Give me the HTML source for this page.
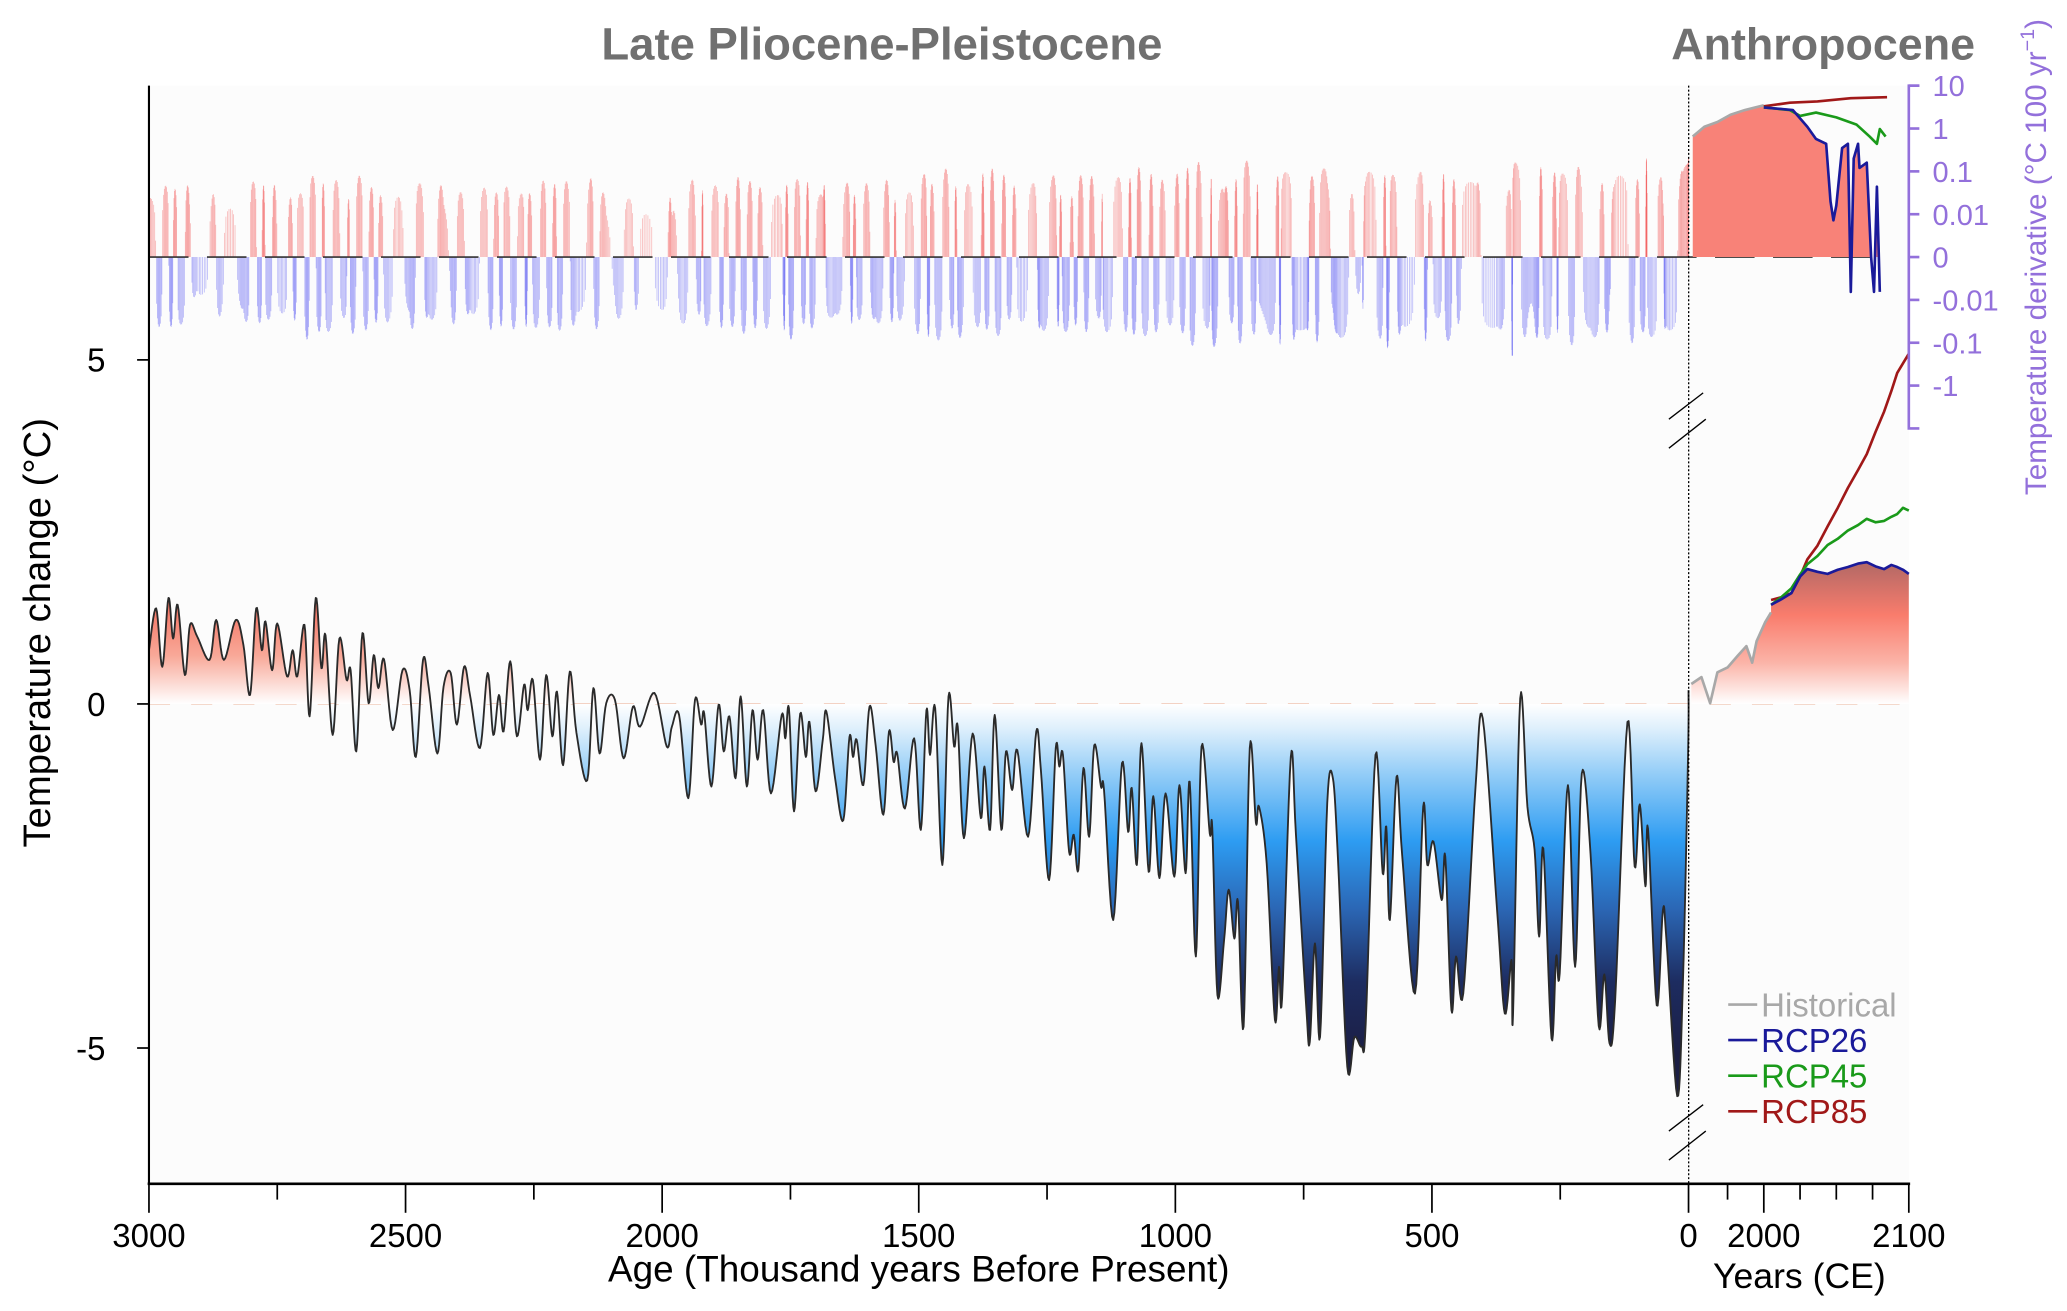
<!DOCTYPE html>
<html><head><meta charset="utf-8"><style>
html,body{margin:0;padding:0;background:#fff;}
svg{display:block;font-family:"Liberation Sans","DejaVu Sans",sans-serif;}
</style></head><body>
<svg id="chart" width="2067" height="1311" viewBox="0 0 1568 994.5" preserveAspectRatio="none" xmlns="http://www.w3.org/2000/svg">
<defs>
<linearGradient id="paleoGrad" gradientUnits="userSpaceOnUse" x1="0" y1="456" x2="0" y2="800">
<stop offset="0" stop-color="#f4705f"/>
<stop offset="0.12" stop-color="#f8a898"/>
<stop offset="0.227" stop-color="#ffffff"/>
<stop offset="0.28" stop-color="#dff0fc"/>
<stop offset="0.38" stop-color="#94cdf7"/>
<stop offset="0.53" stop-color="#2d9cf2"/>
<stop offset="0.68" stop-color="#2b66b4"/>
<stop offset="0.84" stop-color="#1d2c60"/>
<stop offset="1" stop-color="#1b1e44"/>
</linearGradient>
<linearGradient id="anthGrad" gradientUnits="userSpaceOnUse" x1="0" y1="430" x2="0" y2="534">
<stop offset="0" stop-color="#b86a66"/>
<stop offset="0.35" stop-color="#f97c6c"/>
<stop offset="0.7" stop-color="#fbb4a8"/>
<stop offset="1" stop-color="#ffffff"/>
</linearGradient>
</defs>
<rect x="113" y="65" width="1335" height="833" fill="#fcfcfc"/>
<g id="layer"></g>
</svg>
<script>
// ---------- data ----------
const paleoAge = [3000,2986,2974,2962,2953,2944,2930,2920,2906,2882,2869,2854,2831,2816,2803,2791,2780,2773,2760,2750,2731,2720,2711,2697,2687,2675,2664,2656,2642,2629,2615,2607,2596,2584,2572,2562,2553,2542,2525,2506,2492,2480,2466,2455,2438,2426,2412,2400,2386,2374,2355,2340,2329,2318,2309,2296,2283,2269,2262,2252,2238,2226,2214,2205,2193,2180,2167,2146,2134,2122,2109,2092,2075,2057,2043,2015,1991,1981,1967,1949,1936,1924,1918,1904,1890,1880,1869,1857,1847,1835,1824,1814,1803,1788,1767,1760,1753,1743,1731,1720,1713,1701,1687,1680,1663,1647,1635,1628,1621,1608,1596,1584,1569,1558,1549,1542,1527,1509,1496,1485,1478,1468,1454,1442,1431,1424,1412,1395,1379,1372,1361,1352,1339,1330,1318,1308,1287,1271,1262,1246,1233,1226,1219,1207,1198,1189,1179,1168,1158,1145,1139,1121,1104,1092,1085,1075,1066,1052,1043,1031,1019,1002,992,980,972,960,949,933,928,918,905,896,885,878,867,855,843,837,822,806,798,792,775,765,745,738,728,718,704,693,683,665,651,637,629,610,596,589,582,569,558,533,517,509,497,481,474,462,453,439,415,401,373,358,345,342,328,314,300,291,283,267,258,251,235,221,208,191,175,164,154,143,119,105,95,84,79,62,50,43,22,11,1,0];
const paleoTemp = [0.78,1.39,0.54,1.54,0.95,1.44,0.42,1.15,0.98,0.64,1.22,0.64,1.22,0.86,0.13,1.39,0.78,1.20,0.49,1.17,0.40,0.78,0.40,1.15,-0.18,1.54,0.52,1.00,-0.45,0.95,0.35,0.49,-0.69,1.03,0.01,0.71,0.23,0.65,-0.38,0.49,0.20,-0.77,0.64,0.25,-0.72,0.25,0.45,-0.30,0.54,0.11,-0.64,0.45,-0.45,0.13,-0.40,0.62,-0.47,0.28,-0.09,0.35,-0.81,0.42,-0.47,0.18,-0.89,0.47,-0.42,-1.11,0.23,-0.72,0.01,0.06,-0.79,-0.04,-0.33,0.16,-0.62,-0.33,-0.16,-1.37,0.06,-0.30,-0.14,-1.20,-0.01,-0.69,-0.18,-1.08,0.11,-1.20,-0.09,-0.81,-0.09,-1.30,-0.16,-0.50,-0.06,-1.56,-0.14,-0.77,-0.26,-1.27,-0.52,-0.11,-1.08,-1.69,-0.48,-0.77,-0.52,-1.18,-0.04,-0.60,-1.61,-0.40,-0.84,-0.72,-1.52,-0.50,-1.83,-0.09,-0.74,-0.06,-2.34,0.11,-0.62,-0.33,-1.95,-0.43,-1.66,-0.91,-1.83,-0.16,-1.83,-0.69,-1.25,-0.67,-1.93,-0.40,-0.96,-2.56,-0.64,-0.91,-0.74,-2.15,-1.90,-2.41,-0.93,-1.93,-0.60,-1.20,-1.25,-3.14,-0.86,-1.86,-1.22,-2.34,-0.57,-2.44,-1.34,-2.53,-1.30,-2.51,-1.18,-2.46,-1.13,-3.67,-0.62,-1.88,-1.81,-4.23,-3.43,-2.70,-3.41,-2.87,-4.69,-0.64,-1.73,-1.49,-2.32,-4.59,-3.82,-4.28,-0.77,-1.90,-4.40,-4.91,-3.48,-4.84,-1.44,-1.08,-2.27,-5.27,-4.84,-4.98,-4.64,-0.74,-2.46,-1.78,-3.14,-1.06,-2.20,-4.21,-1.49,-2.34,-2.00,-2.85,-2.22,-4.45,-3.67,-4.21,-1.20,-0.21,-3.00,-4.50,-3.72,-4.52,0.08,-1.49,-2.12,-3.38,-2.10,-4.86,-3.67,-3.91,-1.18,-3.82,-1.01,-2.17,-4.68,-3.93,-4.93,-4.31,-0.26,-2.36,-1.46,-2.65,-1.81,-4.38,-3.00,-3.43,-5.70,-4.06,-0.77,0.20];

const histYear = [1950,1957,1963,1968,1975,1982,1988,1992,1995,2001,2005];
const histTemp = [0.29,0.39,0.01,0.46,0.53,0.70,0.84,0.60,0.91,1.19,1.33];
const rcpYear = [2005,2012,2019,2025,2030,2037,2044,2051,2058,2065,2071,2077,2083,2088,2092,2096,2100];
const rcp85 = [1.51,1.55,1.61,1.85,2.10,2.30,2.58,2.85,3.14,3.40,3.63,3.95,4.25,4.55,4.81,4.95,5.09];
const rcp45 = [1.44,1.55,1.68,1.88,2.03,2.15,2.31,2.40,2.52,2.60,2.69,2.64,2.66,2.72,2.76,2.85,2.81];
const rcp26 = [1.44,1.52,1.61,1.85,1.96,1.92,1.89,1.95,1.99,2.04,2.06,2.00,1.96,2.02,1.99,1.95,1.89];

const dHistYear = [1951,1959,1968,1977,1987,2000];
const dHist = [0.65,1.1,1.42,2.1,2.7,3.5];
const d85Year = [2000,2018,2037,2060,2085];
const d85 = [3.3,4.0,4.3,5.1,5.4];
const d45Year = [2000,2018,2025,2036,2050,2064,2073,2078,2080,2084];
const d45 = [3.1,2.7,1.97,2.36,1.82,1.23,0.65,0.44,0.97,0.65];
const d26Year = [2000,2020,2030,2036,2043,2046,2048,2050,2054,2058,2060,2062,2065,2066,2071,2074,2076,2078,2080];
const d26 = [3.1,2.7,1.1,0.57,0.44,0.02,0.0072,0.016,0.35,0.44,-0.0065,0.2,0.44,0.12,0.16,0,-0.0065,0.044,-0.0065];

const ageTicks = [3000,2500,2000,1500,1000,500,0];
const tempTicks = [5,0,-5];
const derivTicks = [10,1,0.1,0.01,0,-0.01,-0.1,-1];
const derivTickLabels = ["10","1","0.1","0.01","0","-0.01","-0.1","-1"];

// ---------- scales ----------
const xAge = a => 113 + (3000 - a) * 0.3893;
const yT = t => 534 - t * 52.2;
const xYr = y => 1338 + (y - 2000) * 1.1;
const yD = v => {
  if (v > 0) return 195 - 32.5 * Math.max(0, Math.log10(v) + 3);
  if (v < 0) return 195 + 32.5 * Math.max(0, Math.log10(-v) + 3);
  return 195;
};

const NS = "http://www.w3.org/2000/svg";
const layer = document.getElementById("layer");
function mk(tag, attrs, parent) {
  const e = document.createElementNS(NS, tag);
  for (const k in attrs) e.setAttribute(k, attrs[k]);
  (parent || layer).appendChild(e);
  return e;
}
function txt(s, attrs, parent) { const e = mk("text", attrs, parent); e.textContent = s; return e; }

// Catmull-Rom sampling of paleo series (age, temp)
const SUB = 8;
const smooth = [];
for (let i = 0; i < paleoAge.length - 1; i++) {
  const i0 = Math.max(0, i - 1), i3 = Math.min(paleoAge.length - 1, i + 2);
  for (let s = 0; s < SUB; s++) {
    const t = s / SUB, t2 = t * t, t3 = t2 * t;
    const cr = (p0, p1, p2, p3) => 0.5 * ((2 * p1) + (-p0 + p2) * t + (2 * p0 - 5 * p1 + 4 * p2 - p3) * t2 + (-p0 + 3 * p1 - 3 * p2 + p3) * t3);
    smooth.push([cr(paleoAge[i0], paleoAge[i], paleoAge[i + 1], paleoAge[i3]),
                 cr(paleoTemp[i0], paleoTemp[i], paleoTemp[i + 1], paleoTemp[i3])]);
  }
}
smooth.push([paleoAge[paleoAge.length - 1], paleoTemp[paleoTemp.length - 1]]);

// ---------- paleo derivative bars ----------
// the original record has much finer sampling than the digitised extrema, so
// instantaneous rates are larger; RES scales the smoothed-curve slope accordingly
const RES = 4;
const barsG = mk("g", {});


for (let k = 0; k < smooth.length - 1; k++) {
  const [a0, t0] = smooth[k], [a1, t1] = smooth[k + 1];
  if (a0 - a1 <= 0.05) continue;
  let v = RES * (t1 - t0) / (a0 - a1) / 10;
  v = Math.max(-0.2, Math.min(0.2, v));
  const x = xAge((a0 + a1) / 2);
  const b = mk("line", {x1: x, x2: x, y1: 195, y2: yD(v),
    stroke: v > 0 ? "rgb(240,50,50)" : "rgb(50,50,240)", "stroke-width": 0.5, "stroke-opacity": 0.4}, barsG);
  
  
}
const z0 = mk("line", {x1: 113, x2: 1430, y1: 195, y2: 195, stroke: "#333", "stroke-width": 1.2, "stroke-dasharray": "30 14"});



// ---------- anthropocene derivative ----------
let fp = "M" + xYr(dHistYear[0]) + ",195";
dHistYear.forEach((y, i) => fp += " L" + xYr(y) + "," + Math.min(yD(dHist[i]), 195));
d26Year.forEach((y, i) => fp += " L" + xYr(y) + "," + Math.min(yD(d26[i]), 195));
fp += " L" + xYr(d26Year[d26Year.length - 1]) + ",195 Z";
const dfill = mk("path", {d: fp, fill: "#f88278"});


function dline(years, vals, color, name) {
  const p = mk("polyline", {points: years.map((y, i) => xYr(y) + "," + yD(vals[i])).join(" "),
    fill: "none", stroke: color, "stroke-width": 2, "stroke-linejoin": "round"});
  
  
}
dline(dHistYear, dHist, "#a8a8a8", "historical-derivative-line");
dline(d85Year, d85, "#a01818", "rcp85-derivative-line");
dline(d45Year, d45, "#1a9a1a", "rcp45-derivative-line");
dline(d26Year, d26, "#1a1a9a", "rcp26-derivative-line");

// ---------- paleo temperature ----------
const z1 = mk("line", {x1: 113, x2: 1448, y1: 534, y2: 534, stroke: "#f3d2c4", "stroke-width": 1.5, "stroke-dasharray": "16 16"});


const pts = smooth.map(([a, t]) => xAge(a).toFixed(2) + "," + yT(t).toFixed(2));
const area = mk("path", {d: "M" + xAge(paleoAge[0]) + ",534 L" + pts.join(" L") + " L" + xAge(0) + ",534 Z", fill: "url(#paleoGrad)"});


const pl = mk("polyline", {points: pts.join(" "), fill: "none", stroke: "#2a2a2a", "stroke-width": 1.4, "stroke-linejoin": "round"});



// ---------- anthropocene temperature ----------
let ap = "M" + xYr(histYear[0]) + ",534";
histYear.forEach((y, i) => ap += " L" + xYr(y) + "," + yT(histTemp[i]));
rcpYear.forEach((y, i) => ap += " L" + xYr(y) + "," + yT(rcp26[i]));
ap += " L" + xYr(2100) + ",534 Z";
const af = mk("path", {d: ap, fill: "url(#anthGrad)"});


function tline(years, vals, color, name) {
  const p = mk("polyline", {points: years.map((y, i) => xYr(y) + "," + yT(vals[i])).join(" "),
    fill: "none", stroke: color, "stroke-width": 2, "stroke-linejoin": "round"});
  
  
}
tline(histYear, histTemp, "#a8a8a8", "historical-line");
tline(rcpYear, rcp85, "#a01818", "rcp85-line");
tline(rcpYear, rcp45, "#1a9a1a", "rcp45-line");
tline(rcpYear, rcp26, "#1a1a9a", "rcp26-line");

// ---------- axes ----------
const axG = mk("g", {});


mk("line", {x1: 113, x2: 113, y1: 65, y2: 898, stroke: "#000", "stroke-width": 1.6}, axG);
mk("line", {x1: 112, x2: 1449, y1: 898, y2: 898, stroke: "#000", "stroke-width": 2}, axG);
mk("line", {x1: 1281, x2: 1281, y1: 65, y2: 898, stroke: "#000", "stroke-width": 1, "stroke-dasharray": "1.5 1.5"}, axG);
ageTicks.forEach(a => {
  mk("line", {x1: xAge(a), x2: xAge(a), y1: 898, y2: 920, stroke: "#000", "stroke-width": 1.3}, axG);
  const t = txt(String(a), {x: xAge(a), y: 946, "text-anchor": "middle", "font-size": 25}, axG);
  
  
});
for (let a = 2750; a > 0; a -= 500) mk("line", {x1: xAge(a), x2: xAge(a), y1: 898, y2: 910, stroke: "#000", "stroke-width": 1.3}, axG);
[1975, 2025, 2050, 2075].forEach(y => mk("line", {x1: xYr(y), x2: xYr(y), y1: 898, y2: 910, stroke: "#000", "stroke-width": 1.3}, axG));
[2000, 2100].forEach(y => {
  mk("line", {x1: xYr(y), x2: xYr(y), y1: 898, y2: 920, stroke: "#000", "stroke-width": 1.3}, axG);
  const t = txt(String(y), {x: xYr(y), y: 946, "text-anchor": "middle", "font-size": 25}, axG);
  
  
});
tempTicks.forEach(v => {
  mk("line", {x1: 104, x2: 113, y1: yT(v), y2: yT(v), stroke: "#000", "stroke-width": 1.3}, axG);
  const t = txt(String(v), {x: 80, y: yT(v) + 9, "text-anchor": "end", "font-size": 25}, axG);
  
  
});
// right derivative axis
mk("path", {d: "M1456,65 L1448,65 L1448,325 L1456,325", fill: "none", stroke: "#9370db", "stroke-width": 2}, axG);
derivTicks.forEach((v, i) => {
  const y = yD(v);
  mk("line", {x1: 1448, x2: 1456, y1: y, y2: y, stroke: "#9370db", "stroke-width": 2}, axG);
  const t = txt(derivTickLabels[i], {x: 1466, y: y + 8, "font-size": 22, fill: "#9370db"}, axG);
  
  
});
// break marks
[320, 860].forEach(yc => {
  mk("line", {x1: 1266, x2: 1292, y1: yc - 2, y2: yc - 22, stroke: "#000", "stroke-width": 1}, axG);
  mk("line", {x1: 1266, x2: 1294, y1: yc + 20, y2: yc - 2, stroke: "#000", "stroke-width": 1}, axG);
});

// ---------- titles & labels ----------
const labels = [
  ["Late Pliocene-Pleistocene", {x: 669, y: 45, "text-anchor": "middle", "font-size": 34.5, "font-weight": "bold", fill: "#707070"}, "left-panel-title"],
  ["Anthropocene", {x: 1383, y: 45, "text-anchor": "middle", "font-size": 34, "font-weight": "bold", fill: "#707070"}, "right-panel-title"],
  ["Age (Thousand years Before Present)", {x: 697, y: 972, "text-anchor": "middle", "font-size": 28}, "x-axis-title"],
  ["Years (CE)", {x: 1365, y: 977, "text-anchor": "middle", "font-size": 27}, "year-axis-title"],
  ["Temperature change (°C)", {x: 0, y: 0, "text-anchor": "middle", "font-size": 29, transform: "translate(38,480) rotate(-90)"}, "y-axis-title"]
];
labels.forEach(([s, a, n]) => {
  const t = txt(s, a);
  
  
});
const rt = mk("text", {x: 0, y: 0, "text-anchor": "middle", "font-size": 22.5, fill: "#9370db", transform: "translate(1552,195) rotate(-90)"});


rt.innerHTML = 'Temperature derivative (°C 100 yr<tspan dy="-9" font-size="15">−1</tspan><tspan dy="9">)</tspan>';

// ---------- legend ----------
const legNames = ["Historical", "RCP26", "RCP45", "RCP85"];
const legColors = ["#a8a8a8", "#1a1a9a", "#1a9a1a", "#a01818"];
const legG = mk("g", {});


legNames.forEach((n, i) => {
  const y = 762 + i * 27;
  const g = mk("g", {}, legG);
  
  
  mk("line", {x1: 1311, x2: 1333, y1: y, y2: y, stroke: legColors[i], "stroke-width": 2}, g);
  txt(n, {x: 1336, y: y + 9, "font-size": 25, fill: legColors[i]}, g);
});
</script>
</body></html>
